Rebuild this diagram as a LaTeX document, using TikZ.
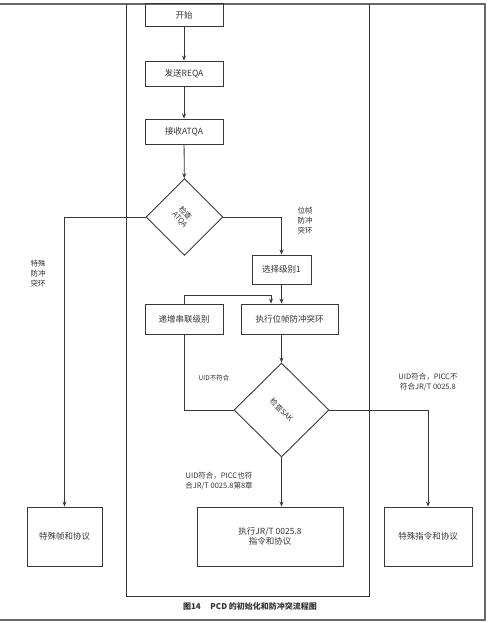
\documentclass[tikz,border=0pt]{standalone}
\usepackage{fontspec}
\setmainfont{Liberation Serif}
\newfontfamily\cjk{Noto Sans CJK SC}
\usetikzlibrary{arrows.meta,shapes.geometric}
\definecolor{ln}{HTML}{383838}
\definecolor{tx}{HTML}{333333}
\definecolor{fr}{HTML}{6A6A6A}
\tikzset{
  every node/.style={font=\cjk\fontsize{8.5}{10}\selectfont, text=tx},
  box/.style={draw=ln, line width=0.9pt, rectangle, inner sep=0pt, align=center},
  dia/.style={draw=ln, line width=0.9pt, diamond, inner sep=0pt},
  conn/.style={draw=ln, line width=0.8pt},
  arr/.style={conn, -{Stealth[length=5pt,width=4pt]}},
  lbl/.style={align=center, inner sep=0pt, font=\cjk\fontsize{7.5}{10}\selectfont},
  dtxt/.style={inner sep=0pt, font=\cjk\fontsize{7.5}{8}\selectfont},
  framel/.style={draw=fr, line width=2pt}
}
\begin{document}
\begin{tikzpicture}[x=1pt,y=-1pt]
\useasboundingbox (0,0) rectangle (488,623);
% outer frame (top, right, bottom)
\draw[framel] (0,4) -- (485,4) -- (485,620) -- (0,620);
% inner rectangle
\draw[conn, line width=1pt] (126,4) -- (126,596) -- (369,596) -- (369,4);
% boxes
\node[box, minimum width=78pt, minimum height=23pt] (start) at (184,15) {开始};
\node[box, minimum width=78pt, minimum height=25pt] (reqa) at (184,73.5) {发送REQA};
\node[box, minimum width=78pt, minimum height=25pt] (atqa) at (184,131.5) {接收ATQA};
\node[dia, minimum width=77pt, minimum height=77pt] (chk1) at (184.5,217) {};
\node[dtxt, rotate=-50] (t1a) at ([xshift=1pt,yshift=4pt]chk1.center) {检查};
\node[dtxt, rotate=-50] (t1b) at ([xshift=-5pt,yshift=-3pt]chk1.center) {ATQA};
\node[box, minimum width=59pt, minimum height=29pt] (sel) at (281.5,269.5) {选择级别1};
\node[box, minimum width=97pt, minimum height=30pt] (bitac) at (289.5,319) {执行位帧防冲突环};
\node[box, minimum width=78pt, minimum height=30pt] (inc) at (184,319) {递增串联级别};
\node[dia, minimum width=95pt, minimum height=94pt] (chk2) at (281.5,410) {};
\node[dtxt, rotate=-45] (t2) at (chk2.center) {检查SAK};
\node[box, minimum width=75pt, minimum height=59pt] (sfp) at (64.5,536.5) {特殊帧和协议};
\node[box, minimum width=146pt, minimum height=59pt] (jrt) at (270,536.5) {执行JR/T 0025.8\\指令和协议};
\node[box, minimum width=88pt, minimum height=59pt] (scp) at (428,536.5) {特殊指令和协议};
% connectors
\draw[arr] (start) -- (reqa);
\draw[arr] (reqa) -- (atqa);
\draw[arr] (atqa) -- (chk1);
\draw[arr] (chk1.west) -| (sfp.north);
\draw[arr] (chk1.east) -| (sel.north);
\draw[arr] (sel) -- (sel.south |- bitac.north);
\coordinate (loopc) at (184,295);
\draw[arr] (inc.north) -- (loopc) -| ([xshift=-18.5pt]bitac.north);
\draw[arr] (sel.south |- bitac.south) -- (chk2.north);
\draw[conn] (chk2.west) -| (inc.south);
\draw[arr] (chk2.east) -| (scp.north);
\draw[arr] (chk2.south) -- (chk2.south |- jrt.north);
% labels
\node[lbl] at (38,274) {特殊\\防冲\\突环};
\node[lbl] at (305,221) {位帧\\防冲\\突环};
\node[lbl, font=\cjk\fontsize{6.5}{8}\selectfont] at (214,378) {UID不符合};
\node[lbl] at (428,382) {UID符合，PICC不\\符合JR/T 0025.8};
\node[lbl] at (219,481.5) {UID符合，PICC也符\\合JR/T 0025.8第8章};
\node[font=\cjk\bfseries\fontsize{8}{10}\selectfont] (cap) at (250,606) {图14\hspace{1.2em}PCD 的初始化和防冲突流程图};
\end{tikzpicture}
\end{document}
